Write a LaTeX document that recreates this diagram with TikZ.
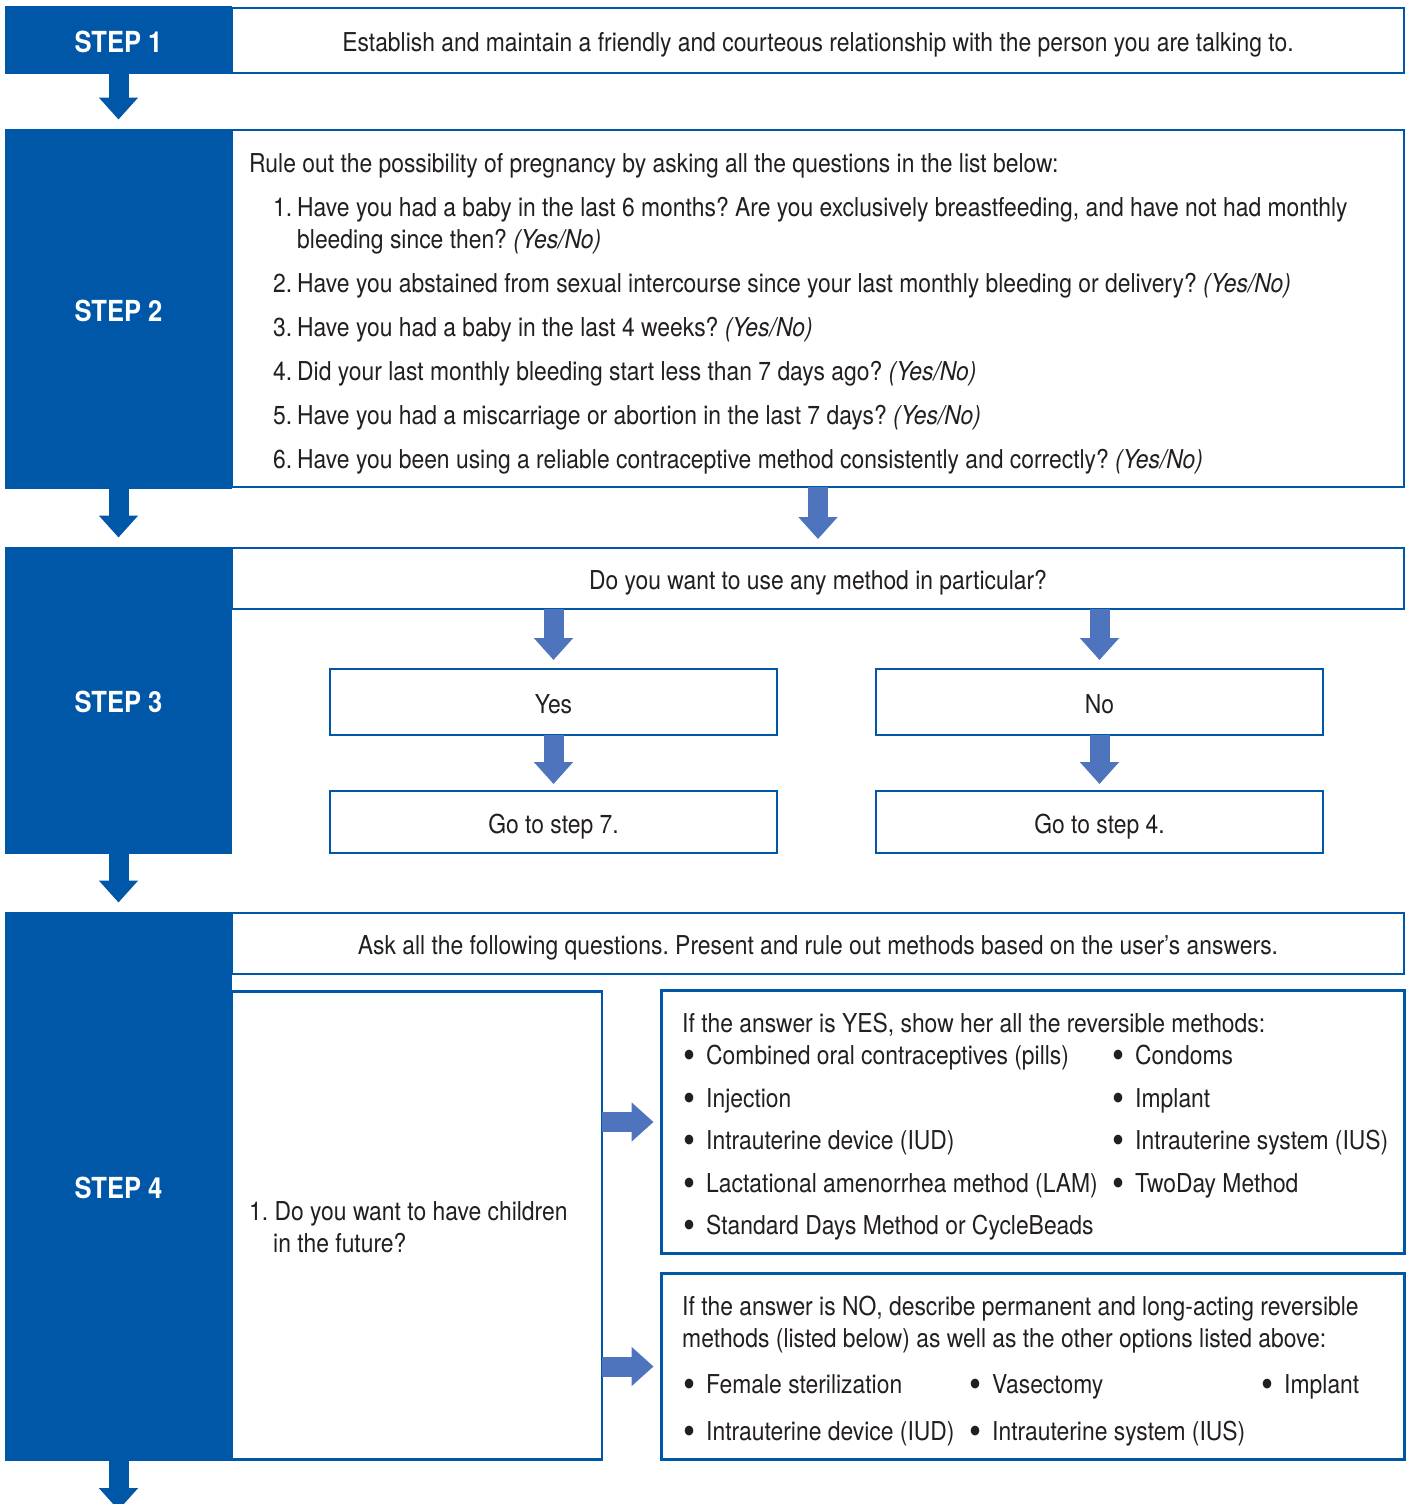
\documentclass[tikz,border=0pt]{standalone}
\usepackage{fontspec}
\setmainfont{TeX Gyre Heros}[FakeStretch=0.88]
\usepackage{tikz}
\usetikzlibrary{arrows.meta, positioning}

\definecolor{stepblue}{HTML}{0057A8}
\definecolor{arrowblue}{HTML}{4E74BE}
\definecolor{txtgray}{HTML}{231F20}

\frenchspacing
\newcommand{\bodyfont}{\fontsize{26}{32}\selectfont}
\newcommand{\labelfont}{\fontsize{29}{36}\selectfont\bfseries}
\newcommand{\yn}{\textit{(Yes/No)}}
\newcommand{\bul}[1]{\makebox[23pt][l]{\raisebox{-4pt}{\scalebox{1.5}{\textbullet}}}#1}

\tikzset{
  stepbox/.style={fill=stepblue, text=white, font=\labelfont, text height=25pt, text depth=0pt, anchor=north west, inner sep=0pt, outer sep=0pt},
  qbox/.style={draw=stepblue, line width=2.7pt, fill=white, text=txtgray, font=\bodyfont, text height=22pt, text depth=0pt, anchor=north west, inner sep=0pt, outer sep=0pt},
  txt/.style={text=txtgray, font=\bodyfont, anchor=base west, inner sep=0pt},
  blockarrow/.style={line width=20pt, stepblue, -{Triangle[length=22pt, width=38pt]}},
  lightarrow/.style={line width=20pt, arrowblue, -{Triangle[length=22pt, width=38pt]}},
}

\begin{document}
\begin{tikzpicture}[x=1pt, y=-1pt]
  \useasboundingbox (0,0) rectangle (1410,1504);
  \clip (0,0) rectangle (1410,1504);

  % Step 1
  \node[qbox, minimum width=1172pt, minimum height=65pt] (q1) at (232,8) {Establish and maintain a friendly and courteous relationship with the person you are talking to.};
  \node[stepbox, minimum width=227pt, minimum height=68pt] (s1) at (5,6) {STEP 1};

  % Step 2
  \node[qbox, minimum width=1172pt, minimum height=357pt] (q2) at (232,130) {};
  \node[stepbox, minimum width=227pt, minimum height=360pt] (s2) at (5,128.5) {STEP 2};
  \node[txt] (h2) at (249,172) {Rule out the possibility of pregnancy by asking all the questions in the list below:};
  \node[txt] (i1) at (273,216) {\makebox[24pt][l]{1.}Have you had a baby in the last 6 months? Are you exclusively breastfeeding, and have not had monthly};
  \node[txt] (i1b) at (297,248) {bleeding since then? \yn};
  \foreach \n/\yb/\q in {2/292/{Have you abstained from sexual intercourse since your last monthly bleeding or delivery?},
                         3/336/{Have you had a baby in the last 4 weeks?},
                         4/380/{Did your last monthly bleeding start less than 7 days ago?},
                         5/424/{Have you had a miscarriage or abortion in the last 7 days?},
                         6/468/{Have you been using a reliable contraceptive method consistently and correctly?}}
    \node[txt] (i\n) at (273,\yb) {\makebox[24pt][l]{\n.}\q{} \yn};

  % Step 3
  \node[qbox, minimum width=1172pt, minimum height=61pt] (q3) at (232,548) {Do you want to use any method in particular?};
  \node[stepbox, minimum width=227pt, minimum height=307pt] (s3) at (5,546.5) {STEP 3};
  \node[qbox, minimum width=447pt, minimum height=66pt] (yes) at (330,669) {Yes};
  \node[qbox, minimum width=447pt, minimum height=62pt] (go7) at (330,791) {Go to step 7.};
  \node[qbox, minimum width=447pt, minimum height=66pt] (no) at (876,669) {No};
  \node[qbox, minimum width=447pt, minimum height=62pt] (go4) at (876,791) {Go to step 4.};

  % Step 4
  \node[qbox, minimum width=1172pt, minimum height=61pt] (q4) at (232,913) {Ask all the following questions. Present and rule out methods based on the user’s answers.};
  \node[stepbox, minimum width=227pt, minimum height=549pt] (s4) at (5,911.5) {STEP 4};
  \node[qbox, minimum width=370pt, minimum height=468pt] (ask) at (232,991.5) {};
  \node[qbox, minimum width=743pt, minimum height=263pt] (ansyes) at (661.5,990.5) {};
  \node[qbox, minimum width=743pt, minimum height=186pt] (ansno) at (661.5,1273.5) {};
  \node[txt] (c1) at (249,1220) {1. Do you want to have children};
  \node[txt] (c1b) at (273,1252) {in the future?};

  % answer YES
  \node[txt] (ty) at (682,1032) {If the answer is YES, show her all the reversible methods:};
  \node[txt] (y1) at (683,1064) {\bul{Combined oral contraceptives (pills)}};
  \node[txt] (y2) at (683,1107) {\bul{Injection}};
  \node[txt] (y3) at (683,1149) {\bul{Intrauterine device (IUD)}};
  \node[txt] (y4) at (683,1192) {\bul{Lactational amenorrhea method (LAM)}};
  \node[txt] (y5) at (683,1234) {\bul{Standard Days Method or CycleBeads}};
  \node[txt] (y6) at (1112,1064) {\bul{Condoms}};
  \node[txt] (y7) at (1112,1107) {\bul{Implant}};
  \node[txt] (y8) at (1112,1149) {\bul{Intrauterine system (IUS)}};
  \node[txt] (y9) at (1112,1192) {\bul{TwoDay Method}};

  % answer NO
  \node[txt] (tn) at (682,1315) {If the answer is NO, describe permanent and long-acting reversible};
  \node[txt] (tn2) at (682,1347) {methods (listed below) as well as the other options listed above:};
  \node[txt] (n1) at (683,1393) {\bul{Female sterilization}};
  \node[txt] (n2) at (969,1393) {\bul{Vasectomy}};
  \node[txt] (n3) at (1261,1393) {\bul{Implant}};
  \node[txt] (n4) at (683,1440) {\bul{Intrauterine device (IUD)}};
  \node[txt] (n5) at (969,1440) {\bul{Intrauterine system (IUS)}};

  \coordinate (out) at (118.5,1510);

  % Arrows between steps
  \draw[blockarrow, shorten >=9pt] (s1.south) -- (s2.north);
  \draw[blockarrow, shorten >=9pt] (s2.south) -- (s3.north);
  \draw[blockarrow, shorten >=9pt] (s3.south) -- (s4.north);
  \draw[blockarrow] (s4.south) -- (out);
  \draw[lightarrow, shorten >=9pt] (q2.south) -- (q3.north);
  % Yes / No branches
  \draw[lightarrow, shorten >=9pt] (q3.south -| yes.north) -- (yes.north);
  \draw[lightarrow, shorten >=9pt] (q3.south -| no.north) -- (no.north);
  \draw[lightarrow, shorten >=7pt] (yes.south) -- (go7.north);
  \draw[lightarrow, shorten >=7pt] (no.south) -- (go4.north);
  % Answers
  \draw[lightarrow, shorten >=8pt] (ask.east |- ansyes.west) -- (ansyes.west);
  \draw[lightarrow, shorten >=8pt] (ask.east |- ansno.west) -- (ansno.west);
\end{tikzpicture}
\end{document}
